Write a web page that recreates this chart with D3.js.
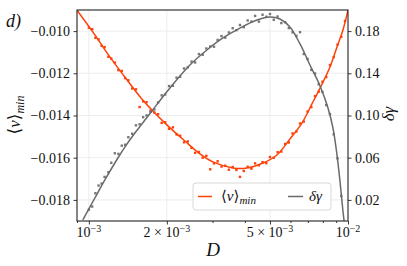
<!DOCTYPE html>
<html lang="en">
<head>
<meta charset="UTF-8">
<title>v_min and delta gamma vs D</title>
<script src="https://cdn.jsdelivr.net/npm/d3@7"></script>
<style>
  body { margin: 0; background: #fff; }
  svg text { font-family: "Liberation Serif", "DejaVu Serif", serif; fill: #111; }
  .grid line { stroke: #e8e8e8; stroke-width: 0.8; }
</style>
</head>
<body>
<svg width="407" height="266"></svg>
<script>
// simulation points (D, <v>_min, delta gamma)
var D = [0.00100, 0.00103, 0.00106, 0.00109, 0.00112, 0.00115, 0.00119, 0.00122, 0.00126, 0.00130,
         0.00134, 0.00138, 0.00142, 0.00147, 0.00152, 0.00157, 0.00162, 0.00167, 0.00173, 0.00179,
         0.00185, 0.00191, 0.00197, 0.00204, 0.00211, 0.00218, 0.00225, 0.00233, 0.00241, 0.00249,
         0.00257, 0.00266, 0.00275, 0.00284, 0.00294, 0.00304, 0.00314, 0.00325, 0.00336, 0.00347,
         0.00359, 0.00371, 0.00383, 0.00396, 0.00410, 0.00424, 0.00438, 0.00453, 0.00468, 0.00484,
         0.00500, 0.00517, 0.00535, 0.00553, 0.00572, 0.00591, 0.00611, 0.00632, 0.00653, 0.00675,
         0.00698, 0.00722, 0.00746, 0.00771, 0.00797, 0.00824, 0.00852, 0.00881, 0.00911, 0.00942,
         0.00974];
var vMin = [-0.00984, -0.00991, -0.01032, -0.01039, -0.01070, -0.01076, -0.01122, -0.01130, -0.01149, -0.01185,
            -0.01189, -0.01223, -0.01233, -0.01272, -0.01276, -0.01360, -0.01333, -0.01337, -0.01377, -0.01386,
            -0.01394, -0.01435, -0.01432, -0.01463, -0.01456, -0.01490, -0.01496, -0.01527, -0.01523, -0.01553,
            -0.01577, -0.01573, -0.01600, -0.01591, -0.01655, -0.01627, -0.01617, -0.01642, -0.01638, -0.01657,
            -0.01644, -0.01658, -0.01691, -0.01663, -0.01643, -0.01652, -0.01627, -0.01636, -0.01621, -0.01626,
            -0.01597, -0.01600, -0.01574, -0.01571, -0.01535, -0.01528, -0.01485, -0.01476, -0.01438, -0.01429,
            -0.01381, -0.01360, -0.01308, -0.01287, -0.01240, -0.01218, -0.01161, -0.01123, -0.01064, -0.01027,
            -0.00952];
var dGamma = [0.0107, 0.0137, 0.0263, 0.0336, 0.0355, 0.0418, 0.0463, 0.0552, 0.0642, 0.0636,
              0.0714, 0.0723, 0.0794, 0.0827, 0.0907, 0.0917, 0.0984, 0.1001, 0.1035, 0.1057,
              0.1124, 0.1191, 0.1199, 0.1279, 0.1282, 0.1359, 0.1367, 0.1446, 0.1457, 0.1511,
              0.1503, 0.1582, 0.1576, 0.1635, 0.1654, 0.1652, 0.1716, 0.1753, 0.1738, 0.1787,
              0.1827, 0.1809, 0.1858, 0.1837, 0.1901, 0.1890, 0.1944, 0.1890, 0.1955, 0.1936,
              0.1962, 0.1907, 0.1938, 0.1876, 0.1884, 0.1829, 0.1788, 0.1755, 0.1790, 0.1583,
              0.1536, 0.1432, 0.1398, 0.1296, 0.1224, 0.1099, 0.1014, 0.0821, 0.0594, 0.0237,
              null];

// fitted curves
var fitVD = [0.000899, 0.001055, 0.001184, 0.001341, 0.001602, 0.001751, 0.001966, 0.002348, 0.002683, 0.003012, 0.003597,
             0.004074, 0.004700, 0.005320, 0.005970, 0.006640, 0.007260, 0.007800, 0.008520, 0.009070, 0.009560, 0.010000];
var fitV = [-0.00900, -0.01018, -0.01109, -0.01199, -0.01322, -0.01374, -0.01436, -0.01521, -0.01582, -0.01620, -0.01649,
            -0.01649, -0.01625, -0.01587, -0.01511, -0.01436, -0.01345, -0.01270, -0.01170, -0.01075, -0.00995, -0.00900];
var fitGD = [0.000948, 0.001055, 0.001153, 0.001294, 0.001377, 0.001505, 0.001602, 0.001751, 0.002055, 0.002455, 0.002855,
             0.003291, 0.003828, 0.004453, 0.004997, 0.005464, 0.005970, 0.006530, 0.007130, 0.007800, 0.008370, 0.008750,
             0.009070, 0.009310, 0.009560, 0.009740];
var fitG = [0.0010, 0.0218, 0.0389, 0.0597, 0.0701, 0.0834, 0.0919, 0.1043, 0.1261, 0.1479, 0.1621,
            0.1735, 0.1829, 0.1905, 0.1934, 0.1915, 0.1839, 0.1678, 0.1479, 0.1280, 0.1071, 0.0881,
            0.0625, 0.0379, 0.0095, -0.0076];

var leftTicks = [-0.018, -0.016, -0.014, -0.012, -0.010];
var rightTicks = [0.02, 0.06, 0.10, 0.14, 0.18];
var xMajor = [0.001, 0.002, 0.005, 0.01];
var xLabels = [["10", "\u22123"], ["2 \u00d7 10", "\u22123"], ["5 \u00d7 10", "\u22123"], ["10", "\u22122"]];
var xMinor = [0.0009, 0.003, 0.004, 0.006, 0.007, 0.008, 0.009];

var orange = "#ff420a", grey = "#6a6a6a";

var svg = d3.select("svg"),
    pL = 77, pR = 348, pT = 10, pB = 221;

var x = d3.scaleLog().domain([0.0009, 0.01]).range([pL, pR]);
var yL = d3.scaleLinear().domain([-0.019, -0.009]).range([pB, pT]);
var yR = d3.scaleLinear().domain([0, 0.2]).range([pB, pT]);

svg.append("clipPath").attr("id", "clip")
    .append("rect").attr("x", pL).attr("y", pT).attr("width", pR - pL).attr("height", pB - pT);

// grid
var grid = svg.append("g").attr("class", "grid");
grid.selectAll(".gx").data(xMajor.slice(0, 3)).enter().append("line")
    .attr("x1", function(d) { return x(d); }).attr("x2", function(d) { return x(d); })
    .attr("y1", pT).attr("y2", pB);
grid.selectAll(".gy").data(leftTicks).enter().append("line")
    .attr("x1", pL).attr("x2", pR)
    .attr("y1", function(d) { return yL(d); }).attr("y2", function(d) { return yL(d); });

var plot = svg.append("g").attr("clip-path", "url(#clip)");

// scatter
plot.selectAll(".pv").data(D).enter().append("rect")
    .attr("x", function(d) { return x(d) - 1.2; })
    .attr("y", function(d, i) { return yL(vMin[i]) - 1.2; })
    .attr("width", 2.4).attr("height", 2.4)
    .attr("fill", orange);
plot.selectAll(".pg").data(D).enter().filter(function(d, i) { return dGamma[i] !== null; }).append("rect")
    .attr("x", function(d) { return x(d) - 1.2; })
    .attr("y", function(d) { return yR(dGamma[D.indexOf(d)]) - 1.2; })
    .attr("width", 2.4).attr("height", 2.4)
    .attr("fill", "#777");

// fit lines
var lineV = d3.line()
    .x(function(d, i) { return x(fitVD[i]); })
    .y(function(d) { return yL(d); })
    .curve(d3.curveCatmullRom.alpha(0.5));
var lineG = d3.line()
    .x(function(d, i) { return x(fitGD[i]); })
    .y(function(d) { return yR(d); })
    .curve(d3.curveCatmullRom.alpha(0.5));
plot.append("path").attr("d", lineV(fitV)).attr("fill", "none").attr("stroke", orange).attr("stroke-width", 1.5);
plot.append("path").attr("d", lineG(fitG)).attr("fill", "none").attr("stroke", grey).attr("stroke-width", 1.5);

// axes
var axL = svg.append("g").attr("transform", "translate(" + pL + ",0)")
    .call(d3.axisLeft(yL).tickValues(leftTicks).tickSize(3.5).tickPadding(3.5).tickFormat(d3.format(".3f")));
var axR = svg.append("g").attr("transform", "translate(" + pR + ",0)")
    .call(d3.axisRight(yR).tickValues(rightTicks).tickSize(3.5).tickPadding(3.5).tickFormat(d3.format(".2f")));
var axB = svg.append("g").attr("transform", "translate(0," + pB + ")")
    .call(d3.axisBottom(x).tickValues(xMajor).tickSize(3.5).tickFormat(""));
var axBm = svg.append("g").attr("transform", "translate(0," + pB + ")")
    .call(d3.axisBottom(x).tickValues(xMinor).tickSize(2).tickFormat(""));

[axL, axR, axB, axBm].forEach(function(a) {
    a.attr("font-family", null).attr("font-size", 14);
    a.select(".domain").remove();
    a.selectAll(".tick line").attr("stroke", "#222").attr("stroke-width", 0.9);
});

// x tick labels with superscripts
var xl = svg.append("g").selectAll("text").data(xMajor).enter().append("text")
    .attr("x", function(d) { return x(d); })
    .attr("y", 237)
    .attr("text-anchor", "middle")
    .attr("font-size", 14);
xl.append("tspan").text(function(d, i) { return xLabels[i][0]; });
xl.append("tspan").attr("dy", -5.5).attr("font-size", 10).text(function(d, i) { return xLabels[i][1]; });

// frame
svg.append("rect").attr("x", pL).attr("y", pT).attr("width", pR - pL).attr("height", pB - pT)
    .attr("fill", "none").attr("stroke", "#222").attr("stroke-width", 1.1);

// labels
svg.append("text").attr("x", 213).attr("y", 256).attr("text-anchor", "middle")
    .attr("font-size", 19).attr("font-style", "italic").text("D");
svg.append("text").attr("x", 6).attr("y", 27).attr("font-size", 18).attr("font-style", "italic").text("d)");

var yl = svg.append("text").attr("transform", "translate(20,115) rotate(-90)")
    .attr("text-anchor", "middle").attr("font-size", 17);
yl.append("tspan").text("\u27e8");
yl.append("tspan").attr("font-style", "italic").text("v");
yl.append("tspan").text("\u27e9");
yl.append("tspan").attr("font-style", "italic").attr("font-size", 12).attr("dy", 4).text("min");

svg.append("text").attr("transform", "translate(394,114) rotate(-90)")
    .attr("text-anchor", "middle").attr("font-size", 17).attr("font-style", "italic").text("\u03b4\u03b3");

// legend
var lg = svg.append("g");
lg.append("rect").attr("x", 193).attr("y", 183).attr("width", 138).attr("height", 27).attr("rx", 3)
    .attr("fill", "#fff").attr("fill-opacity", 0.85).attr("stroke", "#d4d4d4").attr("stroke-width", 0.9);
lg.append("line").attr("x1", 198).attr("x2", 212).attr("y1", 196.5).attr("y2", 196.5)
    .attr("stroke", orange).attr("stroke-width", 1.5);
var t1 = lg.append("text").attr("x", 221).attr("y", 201).attr("font-size", 15);
t1.append("tspan").text("\u27e8");
t1.append("tspan").attr("font-style", "italic").text("v");
t1.append("tspan").text("\u27e9");
t1.append("tspan").attr("font-style", "italic").attr("font-size", 11).attr("dy", 3).text("min");
lg.append("line").attr("x1", 288).attr("x2", 303).attr("y1", 196.5).attr("y2", 196.5)
    .attr("stroke", grey).attr("stroke-width", 1.5);
lg.append("text").attr("x", 309).attr("y", 201).attr("font-size", 15).attr("font-style", "italic").text("\u03b4\u03b3");
</script>
</body>
</html>
